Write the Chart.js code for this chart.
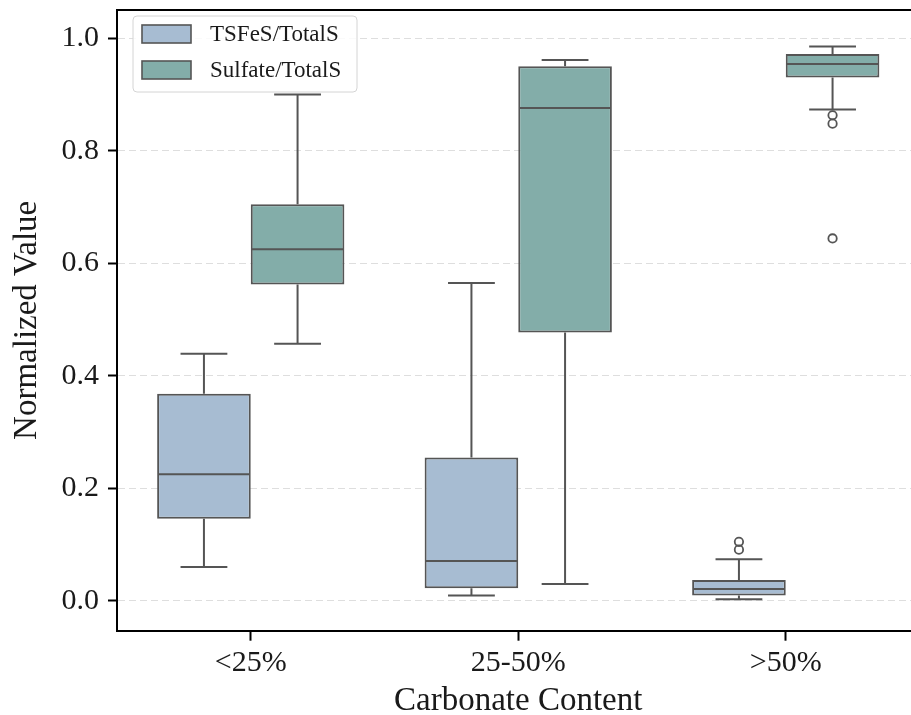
<!DOCTYPE html>
<html>
<head>
<meta charset="utf-8">
<script src="https://cdn.jsdelivr.net/npm/chart.js@4/dist/chart.umd.min.js"></script>
<style>
  html, body { margin: 0; padding: 0; background: #fff; overflow: hidden; }
  #wrap { width: 925px; height: 715px; }
</style>
</head>
<body>
<div id="wrap"><canvas id="boxChart"></canvas></div>
<script>
const categories = ["<25%", "25-50%", ">50%"];
const yTicks = [0.0, 0.2, 0.4, 0.6, 0.8, 1.0];

// TSFeS/TotalS
const tsfesLow = [0.060, 0.0095, 0.003];
const tsfesQ1 = [0.146, 0.0225, 0.0095];
const tsfesMed = [0.225, 0.071, 0.021];
const tsfesQ3 = [0.368, 0.255, 0.037];
const tsfesHigh = [0.439, 0.565, 0.074];
const tsfesOut = [[], [], [0.091, 0.105]];

// Sulfate/TotalS
const sulfLow = [0.457, 0.030, 0.873];
const sulfQ1 = [0.562, 0.477, 0.930];
const sulfMed = [0.625, 0.876, 0.954];
const sulfQ3 = [0.705, 0.950, 0.972];
const sulfHigh = [0.900, 0.961, 0.985];
const sulfOut = [[], [], [0.863, 0.848, 0.644]];

const blueFill = "#a7bcd2";
const tealFill = "#83ada9";
const edge = "#555555";
const textColor = "#1a1a1a";
const serif = "'Liberation Serif', 'DejaVu Serif', serif";

const stats = [
  { low: tsfesLow, med: tsfesMed, high: tsfesHigh, out: tsfesOut },
  { low: sulfLow, med: sulfMed, high: sulfHigh, out: sulfOut },
];

// whiskers, medians, fliers
const boxExtras = {
  id: "boxExtras",
  afterDatasetsDraw(chart) {
    const ctx = chart.ctx;
    const y = chart.scales.y;
    ctx.save();
    ctx.strokeStyle = edge;
    ctx.lineWidth = 2;
    stats.forEach((s, d) => {
      const meta = chart.getDatasetMeta(d);
      const boxes = chart.data.datasets[d].data;
      meta.data.forEach((bar, i) => {
        const x = bar.x;
        const w = bar.width;
        const yLow = y.getPixelForValue(s.low[i]);
        const yHigh = y.getPixelForValue(s.high[i]);
        const yQ1 = y.getPixelForValue(boxes[i][0]);
        const yQ3 = y.getPixelForValue(boxes[i][1]);
        const yMed = y.getPixelForValue(s.med[i]);

        ctx.beginPath();
        ctx.moveTo(x, yQ1); ctx.lineTo(x, yLow);
        ctx.moveTo(x, yQ3); ctx.lineTo(x, yHigh);
        ctx.moveTo(x - w / 4, yLow); ctx.lineTo(x + w / 4, yLow);
        ctx.moveTo(x - w / 4, yHigh); ctx.lineTo(x + w / 4, yHigh);
        ctx.moveTo(x - w / 2 + 1, yMed); ctx.lineTo(x + w / 2 - 1, yMed);
        ctx.stroke();

        s.out[i].forEach((v) => {
          ctx.beginPath();
          ctx.lineWidth = 1.8;
          ctx.arc(x, y.getPixelForValue(v), 4.2, 0, Math.PI * 2);
          ctx.stroke();
          ctx.lineWidth = 2;
        });
      });
    });
    ctx.restore();
  },
  afterDraw(chart) {
    const ctx = chart.ctx;
    const a = chart.chartArea;
    ctx.save();
    // top / right spines
    ctx.strokeStyle = "#000";
    ctx.lineWidth = 2;
    ctx.beginPath();
    ctx.moveTo(a.left, a.top); ctx.lineTo(a.right, a.top); ctx.lineTo(a.right, a.bottom);
    ctx.stroke();

    // legend inside the axes
    const lx = a.left + 16, ly = a.top + 6, lw = 224, lh = 76;
    ctx.beginPath();
    ctx.roundRect(lx, ly, lw, lh, 4);
    ctx.fillStyle = "rgba(255,255,255,0.85)";
    ctx.fill();
    ctx.strokeStyle = "#d4d4d4";
    ctx.lineWidth = 1;
    ctx.stroke();
    ctx.font = "23px " + serif;
    ctx.textBaseline = "middle";
    chart.data.datasets.forEach((ds, i) => {
      const py = ly + 9 + i * 36;
      ctx.fillStyle = ds.backgroundColor;
      ctx.fillRect(lx + 9, py, 49, 18);
      ctx.strokeStyle = edge;
      ctx.lineWidth = 1.6;
      ctx.strokeRect(lx + 9, py, 49, 18);
      ctx.fillStyle = textColor;
      ctx.fillText(ds.label, lx + 77, py + 10);
    });
    ctx.restore();
  },
};

new Chart(document.getElementById("boxChart"), {
  type: "bar",
  data: {
    labels: categories,
    datasets: [
      {
        label: "TSFeS/TotalS",
        data: tsfesQ1.map((v, i) => [v, tsfesQ3[i]]),
        backgroundColor: blueFill,
        borderColor: edge,
        borderWidth: 2,
        borderSkipped: false,
        categoryPercentage: 0.7,
        barPercentage: 1.0,
      },
      {
        label: "Sulfate/TotalS",
        data: sulfQ1.map((v, i) => [v, sulfQ3[i]]),
        backgroundColor: tealFill,
        borderColor: edge,
        borderWidth: 2,
        borderSkipped: false,
        categoryPercentage: 0.7,
        barPercentage: 1.0,
      },
    ],
  },
  options: {
    responsive: true,
    maintainAspectRatio: false,
    animation: false,
    layout: { padding: { top: 10, right: 5.5, left: 0, bottom: 0 } },
    plugins: {
      legend: { display: false },
      tooltip: { enabled: false },
    },
    scales: {
      x: {
        afterFit: (scale) => {
          scale.height = 84.3;
          scale.paddingLeft = 0;
          scale.paddingRight = 0;
        },
        grid: {
          offset: false,
          drawOnChartArea: false,
          tickLength: 10,
          tickColor: "#000",
          tickWidth: 2,
        },
        border: { color: "#000", width: 2 },
        ticks: {
          color: textColor,
          padding: 4,
          font: { family: serif, size: 30 },
        },
        title: {
          display: true,
          text: "Carbonate Content",
          color: textColor,
          padding: 0,
          font: { family: serif, size: 33, lineHeight: 0.85 },
        },
      },
      y: {
        min: -0.053,
        max: 1.05,
        afterFit: (scale) => {
          scale.width = 117;
          scale.paddingTop = 0;
          scale.paddingBottom = 0;
        },
        afterBuildTicks: (scale) => { scale.ticks = yTicks.map((v) => ({ value: v })); },
        grid: {
          color: "#dedede",
          lineWidth: 1,
          tickLength: 9,
          tickColor: "#000",
          tickWidth: 2,
          tickBorderDash: [],
        },
        border: { color: "#000", width: 2, dash: [7, 4] },
        ticks: {
          color: textColor,
          padding: 9,
          font: { family: serif, size: 30 },
          callback: (v) => Number(v).toFixed(1),
        },
        title: {
          display: true,
          text: "Normalized Value",
          color: textColor,
          padding: { top: 13, bottom: 0 },
          font: { family: serif, size: 33, lineHeight: 0.85 },
        },
      },
    },
  },
  plugins: [boxExtras],
});
</script>
</body>
</html>
